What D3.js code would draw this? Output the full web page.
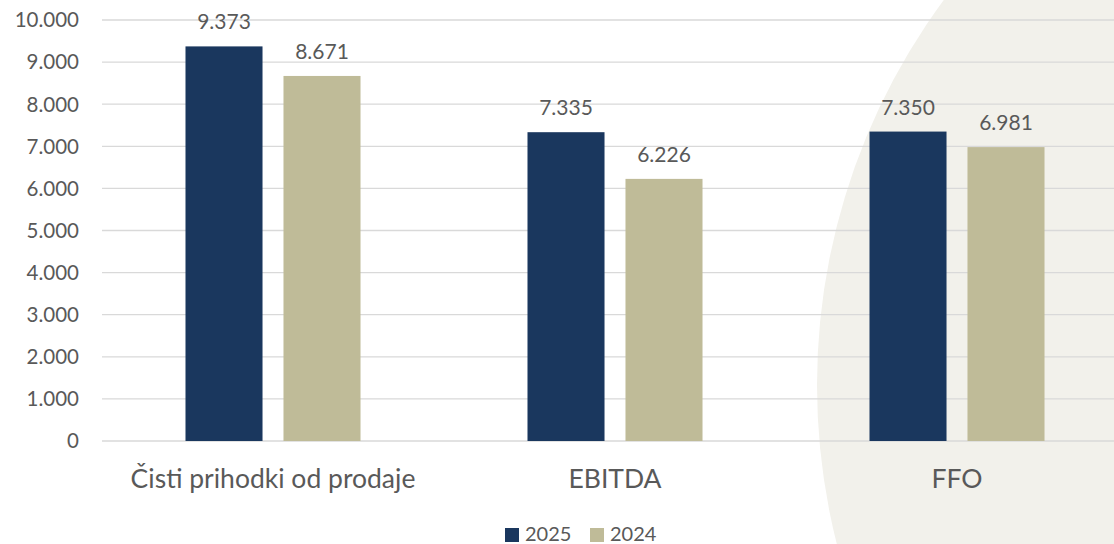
<!DOCTYPE html>
<html>
<head>
<meta charset="utf-8">
<script src="https://cdn.jsdelivr.net/npm/d3@7"></script>
<style>
  body { margin: 0; background: #fff; }
  svg { display: block; font-family: Lato, "Open Sans", sans-serif; }
</style>
</head>
<body>
<svg id="chart" width="1114" height="544"></svg>
<script>
const categories = ["Čisti prihodki od prodaje", "EBITDA", "FFO"];
const years = ["2025", "2024"];
const values2025 = [9373, 7335, 7350];
const values2024 = [8671, 6226, 6981];
const yTicks = [0, 1000, 2000, 3000, 4000, 5000, 6000, 7000, 8000, 9000, 10000];

const width = 1114;
const height = 544;
const margin = { top: 20, left: 102, bottom: 103 };
const svg = d3.select("#chart");
const colors = { "2025": "#1a375e", "2024": "#bfbb98" };

// background circle on the right
svg.append("circle")
  .attr("cx", 1465).attr("cy", 385).attr("r", 648)
  .attr("fill", "#f2f1eb");

const x = d3.scaleBand().domain(categories).range([margin.left, margin.left + 1026]).paddingInner(0).paddingOuter(0);
const xInner = d3.scaleBand().domain(years).range([0, x.bandwidth()]).paddingInner(0.214).paddingOuter(0.852);
const y = d3.scaleLinear().domain([0, 10000]).range([height - margin.bottom, margin.top]);

const fmt = v => d3.format(",")(v).replace(/,/g, ".");

// gridlines
svg.append("g").selectAll("line")
  .data(yTicks).enter().append("line")
  .attr("x1", margin.left).attr("x2", width)
  .attr("y1", d => y(d)).attr("y2", d => y(d))
  .attr("stroke", "#d9d9d9").attr("stroke-width", 1.3);

// y tick labels
svg.append("g").selectAll("text")
  .data(yTicks).enter().append("text")
  .attr("x", 79).attr("y", d => y(d))
  .attr("dy", "0.36em")
  .attr("text-anchor", "end")
  .attr("font-size", 20.5).attr("fill", "#595959")
  .text(fmt);

const rows = categories.map((c, i) => ({ cat: c, vals: [{ year: "2025", v: values2025[i] }, { year: "2024", v: values2024[i] }] }));

const groups = svg.append("g").selectAll("g")
  .data(rows).enter().append("g")
  .attr("transform", d => `translate(${x(d.cat)},0)`);

groups.selectAll("rect")
  .data(d => d.vals).enter().append("rect")
  .attr("x", d => xInner(d.year))
  .attr("width", xInner.bandwidth())
  .attr("y", d => y(d.v))
  .attr("height", d => y(0) - y(d.v))
  .attr("fill", d => colors[d.year]);

groups.selectAll("text.val")
  .data(d => d.vals).enter().append("text")
  .attr("class", "val")
  .attr("x", d => xInner(d.year) + xInner.bandwidth() / 2)
  .attr("y", d => y(d.v) - 17)
  .attr("text-anchor", "middle")
  .attr("font-size", 21).attr("fill", "#595959")
  .text(d => fmt(d.v));

// category labels
svg.append("g").selectAll("text")
  .data(categories).enter().append("text")
  .attr("x", d => x(d) + x.bandwidth() / 2)
  .attr("y", 488)
  .attr("text-anchor", "middle")
  .attr("font-size", 26.5).attr("fill", "#595959")
  .text(d => d);

// legend
const legend = svg.append("g").attr("transform", "translate(505,534)");
const legendX = d3.scaleOrdinal().domain(years).range([0, 85]);
const items = legend.selectAll("g").data(years).enter().append("g")
  .attr("transform", d => `translate(${legendX(d)},0)`);
items.append("rect")
  .attr("x", 0).attr("y", -6).attr("width", 14).attr("height", 14)
  .attr("fill", d => colors[d]);
items.append("text")
  .attr("x", 20).attr("y", 0).attr("dy", "0.36em")
  .attr("font-size", 20).attr("fill", "#595959")
  .text(d => d);
</script>
</body>
</html>
